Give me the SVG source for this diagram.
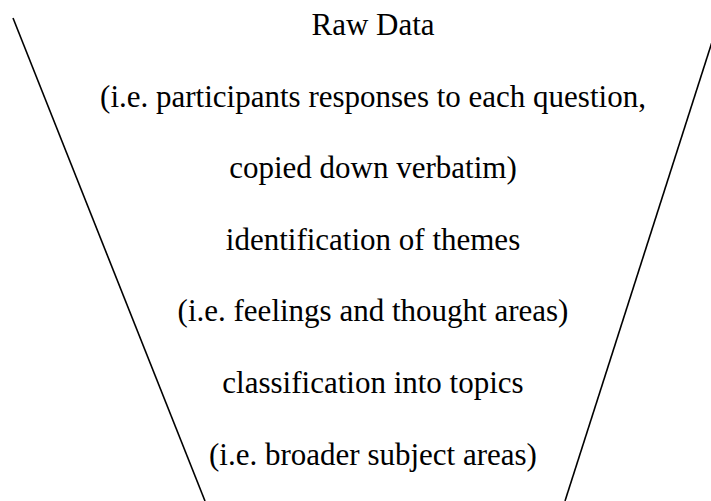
<svg xmlns="http://www.w3.org/2000/svg" width="711" height="501" viewBox="0 0 711 501">
<style>
.t{font-family:"Liberation Serif","Times New Roman",serif;font-size:31px;fill:#000;text-anchor:middle}
.l{stroke:#000;stroke-width:1.6;fill:none}
</style>
<rect width="711" height="501" fill="#fff"/>
<g id="funnel">
<line class="l" x1="13" y1="18" x2="205" y2="501"/>
<line class="l" x1="712" y1="42" x2="565" y2="501"/>
</g>
<g id="labels">
<text class="t" x="373" y="35">Raw Data</text>
<text class="t" x="373" y="106.6">(i.e. participants responses to each question,</text>
<text class="t" x="373" y="178.2">copied down verbatim)</text>
<text class="t" x="373" y="249.8">identification of themes</text>
<text class="t" x="373" y="321.4">(i.e. feelings and thought areas)</text>
<text class="t" x="373" y="393">classification into topics</text>
<text class="t" x="373" y="464.6">(i.e. broader subject areas)</text>
</g>
</svg>
